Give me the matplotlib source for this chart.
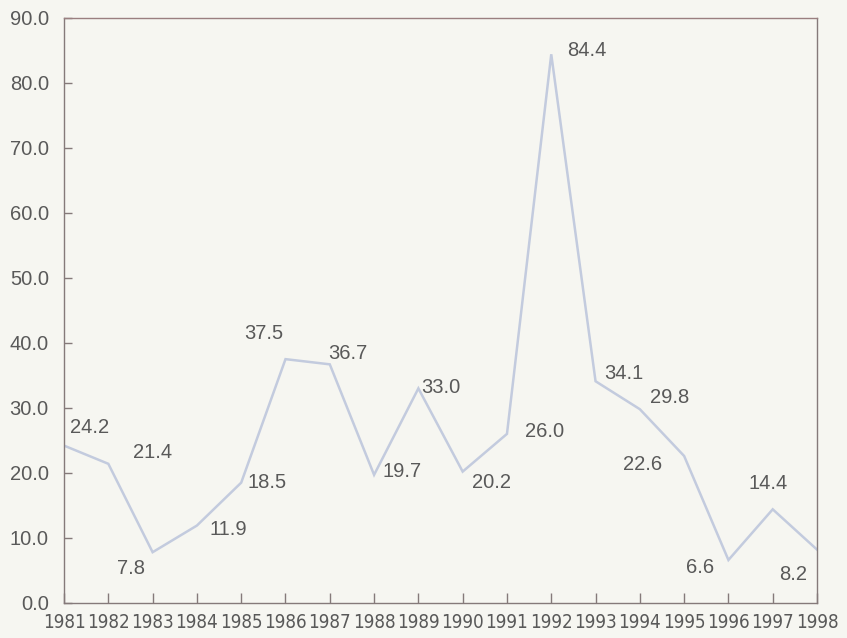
import matplotlib
matplotlib.use('Agg')
import matplotlib.pyplot as plt
from matplotlib import font_manager as fm

# Data
years = [1981, 1982, 1983, 1984, 1985, 1986, 1987, 1988, 1989,
         1990, 1991, 1992, 1993, 1994, 1995, 1996, 1997, 1998]
values = [24.2, 21.4, 7.8, 11.9, 18.5, 37.5, 36.7, 19.7, 33.0,
          20.2, 26.0, 84.4, 34.1, 29.8, 22.6, 6.6, 14.4, 8.2]
# where each value label sits relative to its point (pixels, x right / y up)
label_offsets = [(26, 18), (44, 11), (-22, -16), (31, -4), (26, 0), (-22, 26),
                 (18, 11), (28, 3), (22, 1), (29, -11), (38, 2), (36, 4),
                 (28, 8), (30, 12), (-42, -9), (-28, -7), (-5, 26), (-24, -25)]
y_ticks = [0, 10, 20, 30, 40, 50, 60, 70, 80, 90]

bg = '#f6f6f1'
text_col = '#595959'
frame_col = '#857a7a'
line_col = '#c3cbde'

# the year labels are in a condensed face; use one if the system has it
year_prop = fm.FontProperties(family='DejaVu Sans', stretch='condensed', size=13.5)
if 'Condensed' not in fm.findfont(year_prop):
    year_prop = fm.FontProperties(family='Liberation Sans', size=12)

fig = plt.figure(figsize=(8.47, 6.38), dpi=100, facecolor=bg)
ax = fig.add_axes([0.0756, 0.055, 0.889, 0.917], facecolor=bg)

ax.plot(years, values, color=line_col, linewidth=1.8, solid_joinstyle='miter')

for x, v, (dx, dy) in zip(years, values, label_offsets):
    ax.annotate(f'{v:.1f}', xy=(x, v), xytext=(dx, dy), textcoords='offset pixels',
                ha='center', va='center', fontsize=14.5, color=text_col,
                family=['Liberation Sans', 'DejaVu Sans'])

ax.set_xlim(years[0], years[-1])
ax.set_ylim(0, 90)
ax.set_xticks(years)
ax.set_yticks(y_ticks)
ax.set_yticklabels([f'{t:.1f}' for t in y_ticks])

for s in ax.spines.values():
    s.set_color(frame_col)
    s.set_linewidth(1.0)
ax.spines['top'].set_color('#9a7f80')

ax.tick_params(axis='y', direction='in', length=6, width=1, color=frame_col,
               labelcolor=text_col, labelsize=14.5, pad=11)
ax.tick_params(axis='x', direction='in', length=7, width=1, color=frame_col,
               labelcolor=text_col, pad=7)
for lab in ax.get_yticklabels():
    lab.set_family(['Liberation Sans', 'DejaVu Sans'])
for lab in ax.get_xticklabels():
    lab.set_fontproperties(year_prop)

fig.savefig('out.png', dpi=100, facecolor=bg)
